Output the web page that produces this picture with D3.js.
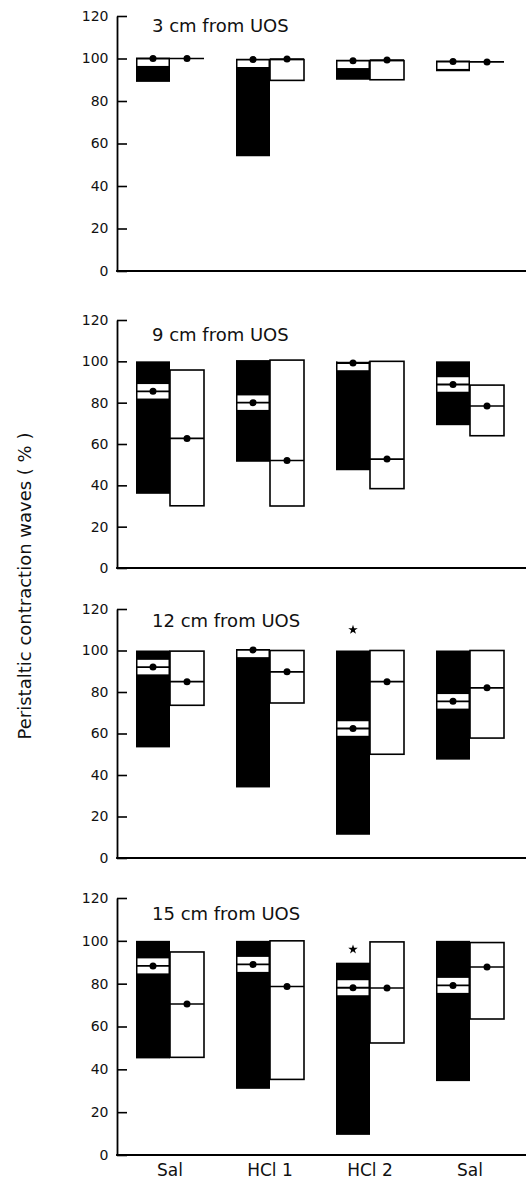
<!DOCTYPE html>
<html lang="en">

<head>
  <meta charset="UTF-8">
  <script src="https://cdnjs.cloudflare.com/ajax/libs/d3/7.8.5/d3.min.js"></script>
  <title>Peristaltic contraction waves</title>
  <style>
    body { margin: 0; background: #fff; }
    text { font-family: "DejaVu Sans", sans-serif; fill: #111; }
  </style>
</head>

<body>
  <div id="chart"></div>
  <script>
    // categories on the x axis (same label twice, so keyed by index)
    const categories = ['Sal', 'HCl 1', 'HCl 2', 'Sal'];
    const panelTitles = ['3 cm from UOS', '9 cm from UOS', '12 cm from UOS', '15 cm from UOS'];
    const yTicks = [0, 20, 40, 60, 80, 100, 120];

    // filled (black) boxes: range and median, one row per panel
    const filledMin = [[89, 54, 90, 94], [35.9, 51.4, 47.3, 69.1], [53.3, 34, 11.2, 47.4], [45.1, 30.9, 9.4, 34.5]];
    const filledMax = [[100, 99.5, 98.8, 98.4], [100, 100.6, 100, 100], [100, 100.3, 100, 100], [100, 100, 89.8, 100]];
    const filledMedian = [[100, 99.5, 99, 98.6], [85.5, 80, 99.2, 88.8], [92, 100.3, 62.4, 75.5], [88.3, 89, 78.1, 79.2]];

    // open (white) boxes
    const openMin = [[100, 89.7, 90, 98.4], [30.1, 30, 38.4, 64], [73.6, 74.7, 50, 57.8], [45.6, 35.3, 52.3, 63.5]];
    const openMax = [[100, 99.5, 99, 98.4], [95.8, 100.6, 100, 88.5], [99.7, 100, 100, 100], [94.8, 100, 99.5, 99.2]];
    const openMedian = [[100, 99.8, 99.3, 98.4], [62.7, 52, 52.7, 78.4], [85, 89.7, 85, 82], [70.5, 78.7, 78, 87.8]];

    // significance stars (panel index, category index, height)
    const starPanel = [2, 3];
    const starCategory = [2, 2];
    const starValue = [110, 96];

    const W = 528, H = 1179;
    const axisX = 117, axisEnd = 526;
    const panelTop = [16, 320, 609, 898];
    const panelBottom = [271, 568, 858, 1155];
    const titleY = [32, 341, 627, 920];
    const bandHalf = 3.5; // white band round the median in filled boxes

    const svg = d3.select('#chart')
      .append('svg')
      .attr('width', W)
      .attr('height', H);

    const xScale = d3.scaleBand()
      .domain(categories.map((c, i) => i))
      .range([120, 520]);

    const sub = d3.scaleBand()
      .domain(['filled', 'open'])
      .range([xScale.bandwidth() / 2 - 34, xScale.bandwidth() / 2 + 34]);

    panelTitles.forEach((title, p) => {
      const y = d3.scaleLinear()
        .domain([0, 120])
        .range([panelBottom[p], panelTop[p]]);

      const g = svg.append('g');

      // y axis: ticks point inward, labels on the left
      const yAxis = g.append('g')
        .attr('transform', `translate(${axisX},0)`)
        .call(d3.axisLeft(y).tickValues(yTicks).tickSizeInner(-10).tickSizeOuter(0).tickPadding(8.5));
      yAxis.select('.domain').attr('stroke-width', 1.8);
      yAxis.selectAll('.tick line').attr('stroke-width', 1.6);
      yAxis.selectAll('text')
        .style('font-family', '"DejaVu Sans", sans-serif')
        .style('font-size', '14px')
        .attr('fill', '#111');

      // x axis line
      g.append('line')
        .attr('x1', axisX - 0.9).attr('x2', axisEnd)
        .attr('y1', y(0)).attr('y2', y(0))
        .attr('stroke', '#000').attr('stroke-width', 1.8);

      g.append('text')
        .attr('x', 152)
        .attr('y', titleY[p])
        .style('font-size', '18px')
        .text(title);

      const rows = categories.map((c, i) => ({
        i,
        filled: { min: filledMin[p][i], max: filledMax[p][i], med: filledMedian[p][i] },
        open: { min: openMin[p][i], max: openMax[p][i], med: openMedian[p][i] }
      }));

      const grp = g.selectAll('.grp')
        .data(rows)
        .enter()
        .append('g')
        .attr('class', 'grp')
        .attr('transform', d => `translate(${xScale(d.i)},0)`);

      // filled boxes
      grp.append('rect')
        .attr('x', sub('filled'))
        .attr('width', sub.bandwidth())
        .attr('y', d => y(d.filled.max))
        .attr('height', d => y(d.filled.min) - y(d.filled.max))
        .attr('fill', '#000');

      // white band round the median
      grp.append('rect')
        .attr('x', sub('filled') + 1.5)
        .attr('width', sub.bandwidth() - 3)
        .attr('y', d => y(Math.min(d.filled.max, d.filled.med + bandHalf)))
        .attr('height', d => y(Math.max(d.filled.min, d.filled.med - bandHalf)) - y(Math.min(d.filled.max, d.filled.med + bandHalf)))
        .attr('fill', '#fff');

      grp.append('line')
        .attr('x1', sub('filled'))
        .attr('x2', sub('filled') + sub.bandwidth())
        .attr('y1', d => y(d.filled.med))
        .attr('y2', d => y(d.filled.med))
        .attr('stroke', '#000')
        .attr('stroke-width', 1.8);

      // open boxes
      grp.append('rect')
        .attr('x', sub('open'))
        .attr('width', sub.bandwidth())
        .attr('y', d => y(d.open.max))
        .attr('height', d => y(d.open.min) - y(d.open.max))
        .attr('fill', '#fff')
        .attr('stroke', '#000')
        .attr('stroke-width', 1.6);

      grp.append('line')
        .attr('x1', sub('open'))
        .attr('x2', sub('open') + sub.bandwidth())
        .attr('y1', d => y(d.open.med))
        .attr('y2', d => y(d.open.med))
        .attr('stroke', '#000')
        .attr('stroke-width', 1.6);

      // median dots
      grp.append('circle')
        .attr('cx', sub('filled') + sub.bandwidth() / 2)
        .attr('cy', d => y(d.filled.med))
        .attr('r', 3.5)
        .attr('fill', '#000');

      grp.append('circle')
        .attr('cx', sub('open') + sub.bandwidth() / 2)
        .attr('cy', d => y(d.open.med))
        .attr('r', 3.5)
        .attr('fill', '#000');

      // stars
      starPanel.forEach((sp, k) => {
        if (sp !== p) return;
        g.append('path')
          .attr('d', d3.symbol(d3.symbolStar, 28)())
          .attr('transform', `translate(${xScale(starCategory[k]) + sub('filled') + sub.bandwidth() / 2},${y(starValue[k])})`)
          .attr('fill', '#000');
      });

      // category labels on the bottom panel only
      if (p === panelTitles.length - 1) {
        const xAxis = g.append('g')
          .attr('transform', `translate(0,${y(0)})`)
          .call(d3.axisBottom(xScale).tickSize(0).tickPadding(9).tickFormat(i => categories[i]));
        xAxis.select('.domain').remove();
        xAxis.selectAll('text')
          .style('font-family', '"DejaVu Sans", sans-serif')
          .style('font-size', '17px')
          .attr('fill', '#111');
      }
    });

    svg.append('text')
      .attr('transform', 'translate(31,586) rotate(-90)')
      .attr('text-anchor', 'middle')
      .style('font-size', '18px')
      .text('Peristaltic contraction waves ( % )');
  </script>
</body>

</html>
